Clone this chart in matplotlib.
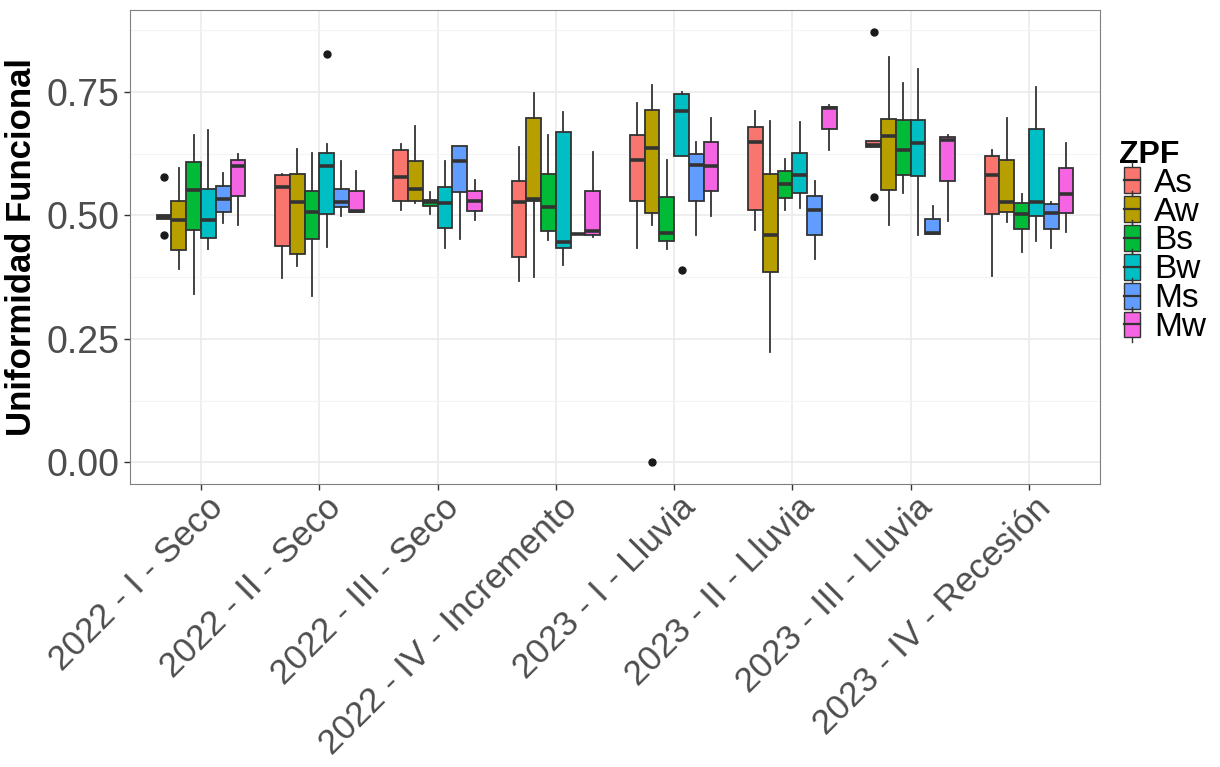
import matplotlib.pyplot as plt
import numpy as np
from matplotlib.patches import Rectangle
from matplotlib.lines import Line2D
from matplotlib.legend_handler import HandlerBase
from matplotlib.transforms import ScaledTranslation

plt.rcParams['font.family'] = ['Liberation Sans', 'DejaVu Sans']

periodos = ['2022 - I - Seco', '2022 - II - Seco', '2022 - III - Seco',
            '2022 - IV - Incremento', '2023 - I - Lluvia', '2023 - II - Lluvia',
            '2023 - III - Lluvia', '2023 - IV - Recesión']
zpf = ['As', 'Aw', 'Bs', 'Bw', 'Ms', 'Mw']
colores = ['#F8766D', '#B79F00', '#00BA38', '#00BFC4', '#619CFF', '#F564E3']

# per periodo, one value per ZPF (As, Aw, Bs, Bw, Ms, Mw)
bigote_inf = [
    [0.493, 0.392, 0.340, 0.431, 0.484, 0.480],
    [0.373, 0.397, 0.336, 0.436, 0.499, 0.507],
    [0.511, 0.524, 0.502, 0.434, 0.453, 0.490],
    [0.367, 0.376, 0.451, 0.399, 0.463, 0.457],
    [0.434, 0.480, 0.431, 0.620, 0.461, 0.499],
    [0.470, 0.223, 0.510, 0.515, 0.412, 0.632],
    [0.638, 0.480, 0.545, 0.461, 0.463, 0.488],
    [0.377, 0.487, 0.426, 0.449, 0.433, 0.466],
]
q1 = [
    [0.493, 0.430, 0.470, 0.454, 0.507, 0.539],
    [0.437, 0.422, 0.452, 0.502, 0.517, 0.507],
    [0.529, 0.529, 0.518, 0.474, 0.547, 0.508],
    [0.415, 0.530, 0.469, 0.434, 0.463, 0.461],
    [0.529, 0.504, 0.448, 0.620, 0.529, 0.549],
    [0.510, 0.386, 0.536, 0.545, 0.460, 0.674],
    [0.638, 0.552, 0.582, 0.580, 0.463, 0.570],
    [0.503, 0.507, 0.472, 0.499, 0.472, 0.504],
]
mediana = [
    [0.497, 0.490, 0.551, 0.490, 0.534, 0.600],
    [0.558, 0.526, 0.507, 0.600, 0.528, 0.509],
    [0.578, 0.554, 0.527, 0.524, 0.609, 0.529],
    [0.528, 0.533, 0.516, 0.447, 0.463, 0.468],
    [0.613, 0.636, 0.465, 0.711, 0.601, 0.600],
    [0.649, 0.461, 0.564, 0.582, 0.511, 0.718],
    [0.642, 0.661, 0.632, 0.647, 0.464, 0.653],
    [0.582, 0.528, 0.503, 0.528, 0.505, 0.544],
]
q3 = [
    [0.501, 0.529, 0.608, 0.554, 0.560, 0.611],
    [0.582, 0.584, 0.549, 0.626, 0.554, 0.549],
    [0.632, 0.610, 0.532, 0.557, 0.640, 0.550],
    [0.570, 0.698, 0.584, 0.668, 0.463, 0.549],
    [0.662, 0.714, 0.538, 0.745, 0.624, 0.648],
    [0.679, 0.583, 0.590, 0.626, 0.540, 0.720],
    [0.651, 0.695, 0.693, 0.692, 0.492, 0.659],
    [0.620, 0.611, 0.524, 0.674, 0.522, 0.595],
]
bigote_sup = [
    [0.501, 0.595, 0.663, 0.673, 0.586, 0.624],
    [0.584, 0.634, 0.627, 0.645, 0.609, 0.589],
    [0.645, 0.681, 0.548, 0.609, 0.640, 0.572],
    [0.638, 0.747, 0.663, 0.709, 0.463, 0.629],
    [0.727, 0.764, 0.611, 0.750, 0.649, 0.697],
    [0.711, 0.691, 0.615, 0.689, 0.569, 0.723],
    [0.651, 0.820, 0.768, 0.796, 0.518, 0.663],
    [0.632, 0.696, 0.543, 0.759, 0.526, 0.647],
]
# atipicos: (periodo, zpf, valor)
atipicos = [
    (0, 0, 0.577), (0, 0, 0.461),
    (1, 3, 0.826),
    (4, 1, 0.000), (4, 3, 0.390),
    (6, 0, 0.872), (6, 0, 0.537),
]

fig = plt.figure(figsize=(12.2, 7.67), dpi=100)
ax = fig.add_axes([0.1066, 0.369, 0.795, 0.618])

ancho = 0.75 / len(zpf)
borde = '#333333'
for j, col in enumerate(colores):
    stats = []
    for i in range(len(periodos)):
        fl = [v for (g, s, v) in atipicos if g == i and s == j]
        stats.append(dict(whislo=bigote_inf[i][j], q1=q1[i][j], med=mediana[i][j],
                          q3=q3[i][j], whishi=bigote_sup[i][j], fliers=fl))
    pos = np.arange(1, len(periodos) + 1) + (j - 2.5) * ancho
    ax.bxp(stats, positions=pos, widths=ancho, patch_artist=True,
           showcaps=False, manage_ticks=False,
           boxprops=dict(facecolor=col, edgecolor=borde, linewidth=1.3),
           medianprops=dict(color=borde, linewidth=2.6, solid_capstyle='butt'),
           whiskerprops=dict(color=borde, linewidth=1.3),
           flierprops=dict(marker='o', markersize=5, markerfacecolor='#1a1a1a',
                           markeredgecolor='#1a1a1a'))

ax.set_xlim(0.4, 8.6)
ax.set_ylim(-0.0436, 0.9156)
ax.set_yticks([0, 0.25, 0.5, 0.75])
ax.set_yticklabels(['0.00', '0.25', '0.50', '0.75'])
ax.set_yticks([0.125, 0.375, 0.625, 0.875], minor=True)
ax.set_xticks(np.arange(1, 9))
ax.grid(which='major', color='#EBEBEB', linewidth=1.2)
ax.grid(which='minor', axis='y', color='#F4F4F4', linewidth=0.8)
ax.set_axisbelow(True)
ax.tick_params(axis='both', which='major', labelcolor='#4D4D4D',
               color='#333333', length=4, width=1)
ax.tick_params(axis='y', which='major', labelsize=27)
ax.tick_params(axis='y', which='minor', length=0)
ax.tick_params(axis='x', which='major', labelsize=25.3, pad=1)
ax.set_xticklabels(periodos, rotation=45, ha='right', va='top', rotation_mode='anchor')
desplazar = ScaledTranslation(5 / 100, 0, fig.dpi_scale_trans)
for t in ax.get_xticklabels():
    t.set_transform(t.get_transform() + desplazar)
for s in ax.spines.values():
    s.set_color('#808080')
    s.set_linewidth(0.8)
ax.set_ylabel('Uniformidad Funcional', fontsize=25, fontweight='bold', labelpad=6)


class CajaLeyenda(HandlerBase):
    def create_artists(self, legend, orig_handle, xdescent, ydescent, width, height,
                       fontsize, trans):
        cx = -xdescent + width / 2
        w = width * 0.6
        y0 = -ydescent
        caja = Rectangle((cx - w / 2, y0 + height * 0.05), w, height * 0.9,
                         facecolor=orig_handle.get_color(), edgecolor=borde,
                         linewidth=1.0, transform=trans)
        med = Line2D([cx - w / 2, cx + w / 2], [y0 + height * 0.5] * 2,
                     color=borde, linewidth=1.6, transform=trans)
        b1 = Line2D([cx, cx], [y0 - height * 0.12, y0 + height * 0.05],
                    color=borde, linewidth=1.0, transform=trans)
        b2 = Line2D([cx, cx], [y0 + height * 0.95, y0 + height * 1.12],
                    color=borde, linewidth=1.0, transform=trans)
        return [b1, b2, caja, med]


manijas = [Line2D([], [], color=c) for c in colores]
leg = fig.legend(manijas, zpf, handler_map={Line2D: CajaLeyenda()},
                 loc='upper left', bbox_to_anchor=(0.898, 0.848), frameon=False,
                 title='ZPF', fontsize=24, handlelength=0.8, handleheight=0.95,
                 handletextpad=0.25, labelspacing=-0.12, borderpad=0.2,
                 title_fontproperties=dict(size=23, weight='bold'))
leg._legend_box.align = 'left'

fig.savefig('out.png', dpi=100)
